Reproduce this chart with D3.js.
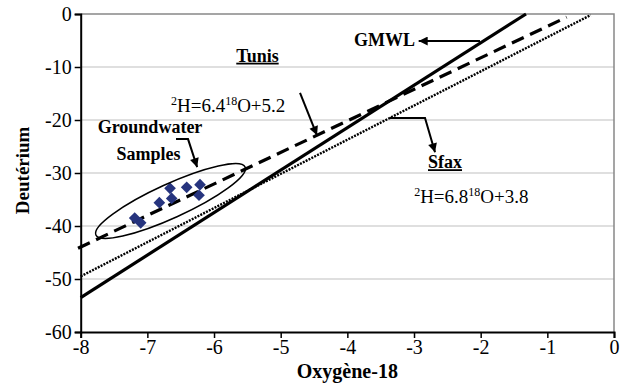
<!DOCTYPE html>
<html><head><meta charset="utf-8">
<script src="https://cdn.jsdelivr.net/npm/d3@7"></script>
<style>
html,body{margin:0;padding:0;background:#fff;}
text{font-family:"Liberation Serif","Times New Roman",serif;fill:#000;}
</style></head>
<body>
<svg id="chart" width="629" height="385"></svg>
<script>
// ---- data ----
const sampleO18 = [-7.19, -7.10, -6.82, -6.66, -6.635, -6.41, -6.21, -6.225];
const sampleD   = [-38.5, -39.4, -35.6, -32.9, -34.8, -32.7, -32.2, -34.2];
// lines as drawn (endpoints)
const gmwlX  = [-8, -1.32];   const gmwlY  = [-53.5, 0];
const tunisX = [-8.04, -0.71]; const tunisY = [-44.2, -0.6];
const sfaxX  = [-8, -0.35];   const sfaxY  = [-49.5, -0.2];
const xTicks = [-8, -7, -6, -5, -4, -3, -2, -1, 0];
const yTicks = [0, -10, -20, -30, -40, -50, -60];

const svg = d3.select("#chart");
const x = d3.scaleLinear().domain([-8, 0]).range([80.7, 614]);
const y = d3.scaleLinear().domain([-60, 0]).range([332, 14]);

// grid
svg.append("g").selectAll("line").data(yTicks.filter(d => d > -60 && d < 0)).join("line")
  .attr("x1", x(-8)).attr("x2", x(0)).attr("y1", d => y(d)).attr("y2", d => y(d))
  .attr("stroke", "#c0c0c0").attr("stroke-width", 1.2);
// plot border top/right
svg.append("path").attr("d", `M${x(-8)},${y(0)}H${x(0)}V${y(-60)}`)
  .attr("fill", "none").attr("stroke", "#888").attr("stroke-width", 1.5);

// defs arrow
const defs = svg.append("defs");
defs.append("marker").attr("id", "arr").attr("viewBox", "0 0 10 10").attr("refX", 10).attr("refY", 5)
  .attr("markerWidth", 11).attr("markerHeight", 9).attr("markerUnits", "userSpaceOnUse").attr("orient", "auto")
  .append("path").attr("d", "M0,0L10,5L0,10Z").attr("fill", "#000");

// lines
const line = d3.line().x(d => x(d[0])).y(d => y(d[1]));
svg.append("path").datum(d3.zip(sfaxX, sfaxY)).attr("d", line)
  .attr("fill", "none").attr("stroke", "#000").attr("stroke-width", 2.4).attr("stroke-dasharray", "2,1.2");
svg.append("path").datum(d3.zip(gmwlX, gmwlY)).attr("d", line)
  .attr("fill", "none").attr("stroke", "#000").attr("stroke-width", 3.2);
svg.append("path").datum(d3.zip(tunisX, tunisY)).attr("d", line)
  .attr("fill", "none").attr("stroke", "#000").attr("stroke-width", 3.2).attr("stroke-dasharray", "13,7");

// points
svg.append("g").selectAll("path").data(d3.zip(sampleO18, sampleD)).join("path")
  .attr("d", d3.symbol(d3.symbolSquare, 68)())
  .attr("transform", d => `translate(${x(d[0])},${y(d[1])}) rotate(45)`)
  .attr("fill", "#26347e");

// ellipse around samples
const ellC = [-6.653, -35.28];
svg.append("ellipse").attr("cx", 0).attr("cy", 0).attr("rx", 82).attr("ry", 17)
  .attr("transform", `translate(${x(ellC[0])},${y(ellC[1])}) rotate(-24.5)`)
  .attr("fill", "none").attr("stroke", "#000").attr("stroke-width", 1.5);

// axes
const yAxis = svg.append("g").attr("transform", `translate(${x(-8)},0)`)
  .call(d3.axisLeft(y).tickValues(yTicks).tickSize(6).tickPadding(3).tickFormat(d3.format("d")));
const xAxis = svg.append("g").attr("transform", `translate(0,${y(-60)})`)
  .call(d3.axisBottom(x).tickValues(xTicks).tickSize(6).tickPadding(2).tickFormat(d3.format("d")));
[yAxis, xAxis].forEach(g => {
  g.attr("font-family", null);
  g.select(".domain").attr("stroke", "#000").attr("stroke-width", 2);
  g.selectAll(".tick line").attr("stroke", "#000").attr("stroke-width", 1.5);
  g.selectAll("text").attr("font-size", 20).attr("font-family", "Liberation Serif").attr("fill", "#000");
});
yAxis.selectAll(".tick text").text(d => d === 0 ? "0" : "-" + Math.abs(d));
xAxis.selectAll(".tick text").text(d => d === 0 ? "0" : "-" + Math.abs(d));

// axis titles
svg.append("text").attr("x", (x(-8) + x(0)) / 2).attr("y", 378).attr("text-anchor", "middle")
  .attr("font-size", 20).attr("font-weight", "bold").text("Oxygène-18");
svg.append("text").attr("transform", `translate(29,${y(-29.5)}) rotate(-90)`).attr("text-anchor", "middle")
  .attr("font-size", 19).attr("font-weight", "bold").text("Deutérium");

// annotations
function arrow(pts) {
  svg.append("path").datum(pts).attr("d", line).attr("fill", "none")
    .attr("stroke", "#000").attr("stroke-width", 2).attr("marker-end", "url(#arr)");
}
svg.append("text").attr("x", x(-2.986)).attr("y", y(-6.1)).attr("text-anchor", "end")
  .attr("font-size", 18).attr("font-weight", "bold").text("GMWL");
arrow([[-2.01, -5.1], [-2.93, -5.1]]);

svg.append("text").attr("x", x(-5.348)).attr("y", y(-9.0)).attr("text-anchor", "middle")
  .attr("font-size", 18).attr("font-weight", "bold").attr("text-decoration", "underline").text("Tunis");

function eq(px, py, a, b, anchor) {
  const t = svg.append("text").attr("x", x(px)).attr("y", y(py)).attr("text-anchor", anchor).attr("font-size", 19);
  t.append("tspan").attr("font-size", 12).attr("dy", -7).text("2");
  t.append("tspan").attr("dy", 7).text("H=" + a);
  t.append("tspan").attr("font-size", 12).attr("dy", -7).text("18");
  t.append("tspan").attr("dy", 7).text("O+" + b);
}
eq(-6.646, -18.5, "6.4", "5.2", "start");
arrow([[-4.71, -14.9], [-4.455, -22.9]]);

svg.append("text").attr("x", x(-6.96)).attr("y", y(-22.4)).attr("text-anchor", "middle")
  .attr("font-size", 18).attr("font-weight", "bold").text("Groundwater");
svg.append("text").attr("x", x(-6.983)).attr("y", y(-27.5)).attr("text-anchor", "middle")
  .attr("font-size", 18).attr("font-weight", "bold").text("Samples");
arrow([[-6.57, -23.6], [-6.39, -23.6], [-6.253, -28.9]]);

svg.append("text").attr("x", x(-2.79)).attr("y", y(-29.1)).attr("text-anchor", "start")
  .attr("font-size", 18).attr("font-weight", "bold").attr("text-decoration", "underline").text("Sfax");
eq(-2.14, -35.7, "6.8", "3.8", "middle");
arrow([[-3.36, -19.6], [-2.835, -19.6], [-2.685, -26.1]]);
</script>
</body></html>
